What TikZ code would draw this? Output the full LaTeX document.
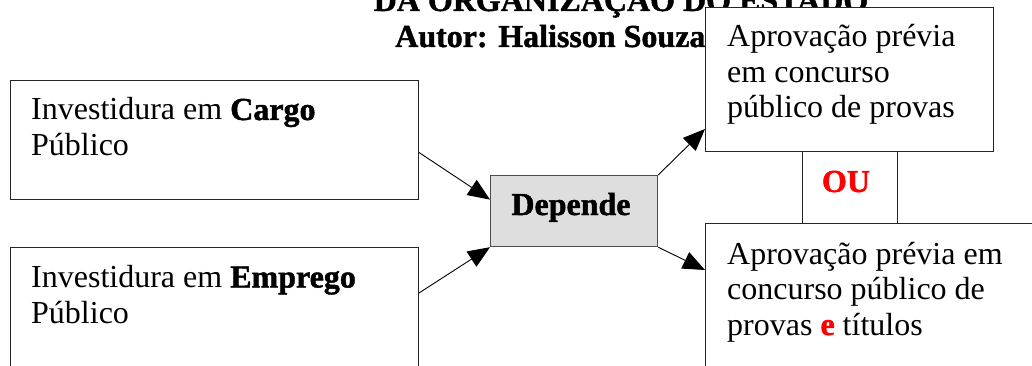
\documentclass[tikz,border=0pt]{standalone}
\usepackage{fontspec}
\setmainfont{Liberation Serif}
\newfontface\heavy{Liberation Serif Bold}[FakeBold=1.4]
\usetikzlibrary{arrows.meta}

\tikzset{
  caixa/.style={draw=black!85, line width=1pt, fill=white, anchor=north west, inner sep=0pt},
  texto/.style={anchor=base west, align=left, inner sep=0pt, font=\fontsize{32}{35.5}\selectfont},
  seta/.style={-{Triangle[length=22pt,width=18pt]}, line width=0.9pt},
}

\begin{document}
\begin{tikzpicture}[x=1pt,y=-1pt]
      \useasboundingbox (0,0) rectangle (1032,366);
      \clip (0,0) rectangle (1032,366);

      % titulo
      \node[anchor=base, inner sep=0pt, font=\fontsize{32}{36}\heavy] (t) at (621,11) {DA ORGANIZAÇÃO DO ESTADO};
      \node[anchor=base west, inner sep=0pt, font=\fontsize{32}{36}\heavy] (autor) at (395,47) {Autor: Halisson Souza-};

      % lado esquerdo (base = ultima linha)
      \node[caixa, minimum width=408, minimum height=119] (a) at (10,80) {};
      \node[texto] (a1) at (31,155.5) {Investidura em {\heavy Cargo}\\Público};
      \node[caixa, minimum width=408, minimum height=160] (b) at (10,247) {};
      \node[texto] (b1) at (31,323) {Investidura em {\heavy Emprego}\\Público};

      % centro
      \node[caixa, fill=black!13, draw=black!70, line width=1.2pt, minimum width=167, minimum height=71] (d) at (490,175) {};
      \node[anchor=base, inner sep=0pt, font=\fontsize{32}{36}\heavy] (d1) at (571,215) {Depende};

      % lado direito
      \node[caixa, minimum width=95, minimum height=72] (o) at (802,151) {};
      \node[anchor=base, inner sep=0pt, text=red, font=\fontsize{32}{36}\heavy] (o1) at (846,192) {OU};
      \node[caixa, minimum width=288, minimum height=144] (p) at (705,7) {};
      \node[texto] (p1) at (727,118) {Aprovação prévia\\em concurso\\público de provas};
      \node[caixa, minimum width=400, minimum height=200] (q) at (705,223) {};
      \node[texto] (q1) at (727,335) {Aprovação prévia em\\concurso público de\\provas {\heavy\color{red}e} títulos};

      \draw[seta] ([yshift=-12.5]a.east) -- ([yshift=11.5]d.west);
      \draw[seta] ([yshift=-46]b.north east) -- (d.south west);
      \draw[seta] (d.north east) -- ([yshift=23]p.south west);
      \draw[seta] (d.south east) -- ([yshift=-47]q.north west);
\end{tikzpicture}
\end{document}
